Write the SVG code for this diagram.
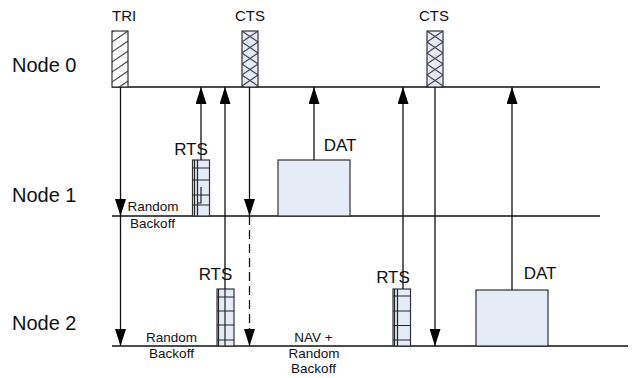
<svg xmlns="http://www.w3.org/2000/svg" width="636" height="378" viewBox="0 0 636 378">
<style>
text{font-family:"Liberation Sans",Arial,sans-serif;fill:#111}
.nl{font-size:20px}
.fl{font-size:15px}
.bl{font-size:17px}
.sl{font-size:13.5px;text-anchor:middle}
.tl{stroke:#111;stroke-width:1.3;fill:none}
.ar{stroke:#111;stroke-width:1.3;fill:none;marker-end:url(#ah)}
.box{fill:#e6ecf7;stroke:#333;stroke-width:1.2}
.g{stroke:#222;stroke-width:1.2;fill:none}
</style>
<defs>
<marker id="ah" markerUnits="userSpaceOnUse" markerWidth="17" markerHeight="11" refX="17" refY="5.5" orient="auto" viewBox="0 0 17 11">
<path d="M0,0 L17,5.5 L0,11 z" fill="#000"/>
</marker>
<pattern id="hatch" patternUnits="userSpaceOnUse" width="16" height="10">
<path d="M0,11 L16,0 M0,1 L1.5,0 M14.5,11 L16,10" stroke="#444" stroke-width="1.1" fill="none"/>
</pattern>
<pattern id="cross" patternUnits="userSpaceOnUse" width="16" height="11">
<rect width="16" height="11" fill="#e6ecf7"/>
<path d="M0,0 L16,11 M0,11 L16,0" stroke="#444" stroke-width="1.1" fill="none"/>
</pattern>
</defs>

<g id="timelines">
<line class="tl" x1="112" y1="87" x2="600" y2="87"/>
<line class="tl" x1="112" y1="216" x2="600" y2="216"/>
<line class="tl" x1="112" y1="346" x2="628" y2="346"/>
</g>

<g id="node-labels">
<text class="nl" x="12" y="72">Node 0</text>
<text class="nl" x="12" y="202">Node 1</text>
<text class="nl" x="12" y="330">Node 2</text>
</g>

<g id="tri">
<g transform="translate(112,31)">
<rect width="16" height="56" fill="#fff"/>
<rect width="16" height="56" fill="url(#hatch)"/>
<rect width="16" height="56" fill="none" stroke="#333" stroke-width="1.2"/>
</g>
<text class="fl" x="112" y="21">TRI</text>
</g>

<g id="cts1">
<g transform="translate(242,31)">
<rect width="16" height="56" fill="url(#cross)" stroke="#333" stroke-width="1.2"/>
</g>
<text class="fl" x="235" y="21">CTS</text>
</g>

<g id="cts2">
<g transform="translate(427,31)">
<rect width="16" height="56" fill="url(#cross)" stroke="#333" stroke-width="1.2"/>
</g>
<text class="fl" x="419" y="21">CTS</text>
</g>

<g id="rts1">
<rect class="box" x="192.5" y="160" width="17" height="56"/>
<path class="g" d="M194.5,160V216 M197.5,160V216 M192.5,168H209.5 M192.5,180H209.5 M192.5,195H209.5 M192.5,205H209.5 M201,187V203H197.5"/>
<text class="bl" x="191" y="155" text-anchor="middle">RTS</text>
</g>

<g id="dat1">
<rect class="box" x="278" y="160" width="72" height="56"/>
<text class="bl" x="340" y="151" text-anchor="middle">DAT</text>
</g>

<g id="rts2">
<rect class="box" x="217" y="289" width="17" height="57"/>
<path class="g" d="M218.5,289V346 M225,289V346 M217,297H234 M217,311H234 M217,325H234 M217,340H234"/>
<text class="bl" x="215.5" y="280" text-anchor="middle">RTS</text>
</g>

<g id="rts3">
<rect class="box" x="393" y="289" width="17.5" height="57"/>
<path class="g" d="M394.5,289V346 M397.5,289V346 M393,296H410.5 M393,311H410.5 M393,325.5H410.5 M393,340H410.5"/>
<text class="bl" x="393" y="283" text-anchor="middle">RTS</text>
</g>

<g id="dat2">
<rect class="box" x="476" y="290" width="72" height="56"/>
<text class="bl" x="540" y="279" text-anchor="middle">DAT</text>
</g>

<g id="backoff1">
<text class="sl" x="153" y="211">Random</text>
<text class="sl" x="152.5" y="228">Backoff</text>
</g>
<g id="backoff2">
<text class="sl" x="171.5" y="342">Random</text>
<text class="sl" x="171.5" y="358">Backoff</text>
</g>
<g id="nav">
<text class="sl" x="313.5" y="342">NAV +</text>
<text class="sl" x="314" y="358">Random</text>
<text class="sl" x="313.5" y="373">Backoff</text>
</g>

<g id="connectors">
<line class="ar" x1="120.5" y1="87" x2="120.5" y2="216"/>
<line class="ar" x1="120.5" y1="216" x2="120.5" y2="346"/>
<line class="ar" x1="201" y1="160" x2="201" y2="87"/>
<line class="ar" x1="225" y1="289" x2="225" y2="87"/>
<line class="ar" x1="249.5" y1="87" x2="249.5" y2="216"/>
<line class="ar" x1="249.5" y1="216" x2="249.5" y2="346" stroke-dasharray="9,5"/>
<line class="ar" x1="314" y1="160" x2="314" y2="87"/>
<line class="ar" x1="403" y1="289" x2="403" y2="87"/>
<line class="ar" x1="435" y1="87" x2="435" y2="346"/>
<line class="ar" x1="512" y1="290" x2="512" y2="87"/>
</g>
</svg>
